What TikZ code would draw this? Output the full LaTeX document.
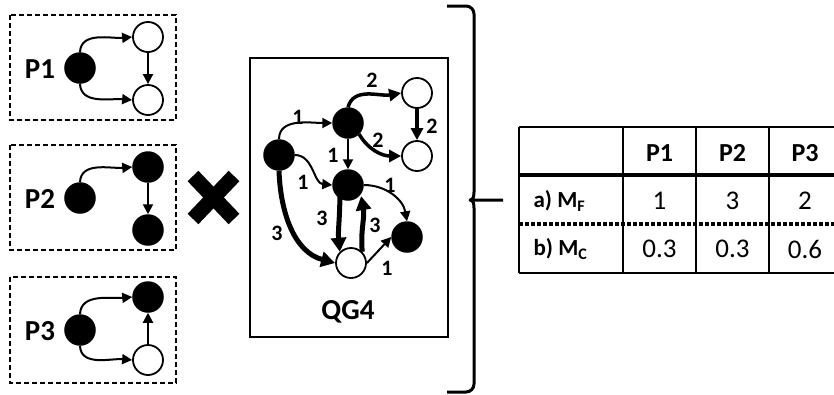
\documentclass[tikz,border=0pt]{standalone}
\usepackage{fontspec}
\setmainfont{Carlito}
\usetikzlibrary{arrows.meta}
\begin{document}
\begin{tikzpicture}[x=1pt,y=-1pt,
  full/.style={circle,fill=black,draw=black,line width=1.5pt,minimum size=30pt,inner sep=0pt},
  empty/.style={circle,fill=white,draw=black,line width=1.8pt,minimum size=30pt,inner sep=0pt},
  pbox/.style={draw,dashed,line width=2pt,dash pattern=on 5pt off 3pt},
  thinedge/.style={line width=2pt,-{Triangle[length=10pt,width=10pt]}},
  medge/.style={line width=3.5pt,-{Triangle[length=12pt,width=12pt]}},
  bedge/.style={line width=5pt,-{Triangle[length=14pt,width=15pt]}},
  plabel/.style={font=\bfseries\fontsize{29}{29}\selectfont},
  elabel/.style={font=\bfseries\fontsize{22}{22}\selectfont},
  hcell/.style={font=\bfseries\fontsize{26}{26}\selectfont},
  vcell/.style={font=\fontsize{27}{27}\selectfont},
  rcell/.style={font=\bfseries\fontsize{23}{23}\selectfont,anchor=west}]
\useasboundingbox (0,0) rectangle (834,394);
\clip (0,0) rectangle (834,394);
% pattern boxes
\draw[pbox] (10,15) rectangle (176,120);
\draw[pbox] (10,145) rectangle (176,250);
\draw[pbox] (10,277) rectangle (176,383);
\node[plabel] (l1) at (40,69) {P1};
\node[plabel] (l2) at (40,199) {P2};
\node[plabel] (l3) at (40,331) {P3};
% P1
\node[full] (p1a) at (80,68) {};
\node[empty] (p1b) at (148,37) {};
\node[empty] (p1c) at (148,100) {};
\draw[thinedge] (p1a.north) to[out=88,in=185] (p1b.west);
\draw[thinedge] (p1a.south) to[out=-88,in=175] (p1c.west);
\draw[thinedge] (p1b) -- (p1c);
% P2
\node[full] (p2a) at (80,198) {};
\node[full] (p2b) at (148,167) {};
\node[full] (p2c) at (148,230) {};
\draw[thinedge] (p2a.north) to[out=88,in=185] (p2b.west);
\draw[thinedge] (p2b) -- (p2c);
% P3
\node[full] (p3a) at (80,330) {};
\node[full] (p3b) at (148,297) {};
\node[empty] (p3c) at (148,360) {};
\draw[thinedge] (p3a.north) to[out=88,in=185] (p3b.west);
\draw[thinedge] (p3a.south) to[out=-88,in=175] (p3c.west);
\draw[thinedge] (p3c) -- (p3b);
% cross
\draw[line width=15pt] (193,176) -- (234,219);
\draw[line width=15pt] (234,176) -- (193,219);
% QG4
\draw[line width=1.3pt] (250,58) rectangle (448,337);
\node[full] (A) at (279,155) {};
\node[full] (B) at (348,123) {};
\node[empty] (C) at (417,93) {};
\node[empty] (D) at (417,156) {};
\node[full] (E) at (348,185) {};
\node[full] (F) at (407,237) {};
\node[empty] (G) at (351,263) {};
\node[plabel] (qg) at (348,312) {QG4};
\draw[thinedge] (A.north) to[out=90,in=180] (B.west);
\draw[medge] (B.north) to[out=75,in=190] (C.west);
\draw[medge] (B.south east) to[out=-60,in=180] (D.west);
\draw[medge] (C) -- (D);
\draw[thinedge] (B) -- (E);
\draw[thinedge] (A.east) to[out=0,in=175] (E.west);
\draw[thinedge] (E.east) to[out=0,in=100] (F.north);
\draw[bedge] (E.south west) ++(3,0) to[out=-90,in=95] (G.north west);
\draw[bedge] (G.north east) to[out=95,in=-80] ([xshift=2pt]E.south east);
\draw[bedge] (A.south) to[out=-88,in=165] (G.west);
\draw[thinedge] (G.east) -- (F.west);
\node[elabel] (w1) at (298,117) {1};
\node[elabel] (w2) at (372,80) {2};
\node[elabel] (w3) at (432,126) {2};
\node[elabel] (w4) at (378,140) {2};
\node[elabel] (w5) at (333,155) {1};
\node[elabel] (w6) at (303,182) {1};
\node[elabel] (w7) at (390,185) {1};
\node[elabel] (w8) at (322,218) {3};
\node[elabel] (w9) at (375,225) {3};
\node[elabel] (w10) at (277,233) {3};
\node[elabel] (w11) at (387,268) {1};
% brace
\draw[line width=3pt,line join=round] (447,6) -- (466,6) to[out=0,in=90] (474,14) -- (474,192) to[out=-90,in=0] (470,200) -- (503,200);
\draw[line width=3pt] (470,200) to[out=0,in=90] (474,208) -- (474,384) to[out=-90,in=0] (466,392) -- (447,392);
% table
\draw[line width=1.5pt] (519,127) -- (834,127);
\draw[line width=4pt] (519,175) -- (834,175);
\draw[line width=4pt,dash pattern=on 4pt off 2pt] (519,224) -- (834,224);
\draw[line width=1.5pt] (519,273) -- (834,273);
\draw[line width=1.5pt] (519,127) -- (519,273);
\draw[line width=1.5pt] (623,127) -- (623,273);
\draw[line width=1.5pt] (696,127) -- (696,273);
\draw[line width=1.5pt] (769,127) -- (769,273);
\node[hcell] (h1) at (659.5,153) {P1};
\node[hcell] (h2) at (732.5,153) {P2};
\node[hcell] (h3) at (805,153) {P3};
\node[rcell] (ra) at (530,201) {a) M\textsubscript{F}};
\node[rcell] (rb) at (530,249) {b) M\textsubscript{C}};
\node[vcell] (a1) at (659.5,201) {1};
\node[vcell] (a2) at (732.5,201) {3};
\node[vcell] (a3) at (805,201) {2};
\node[vcell] (b1) at (659.5,249) {0.3};
\node[vcell] (b2) at (732.5,249) {0.3};
\node[vcell] (b3) at (805,249) {0.6};
\end{tikzpicture}
\end{document}
